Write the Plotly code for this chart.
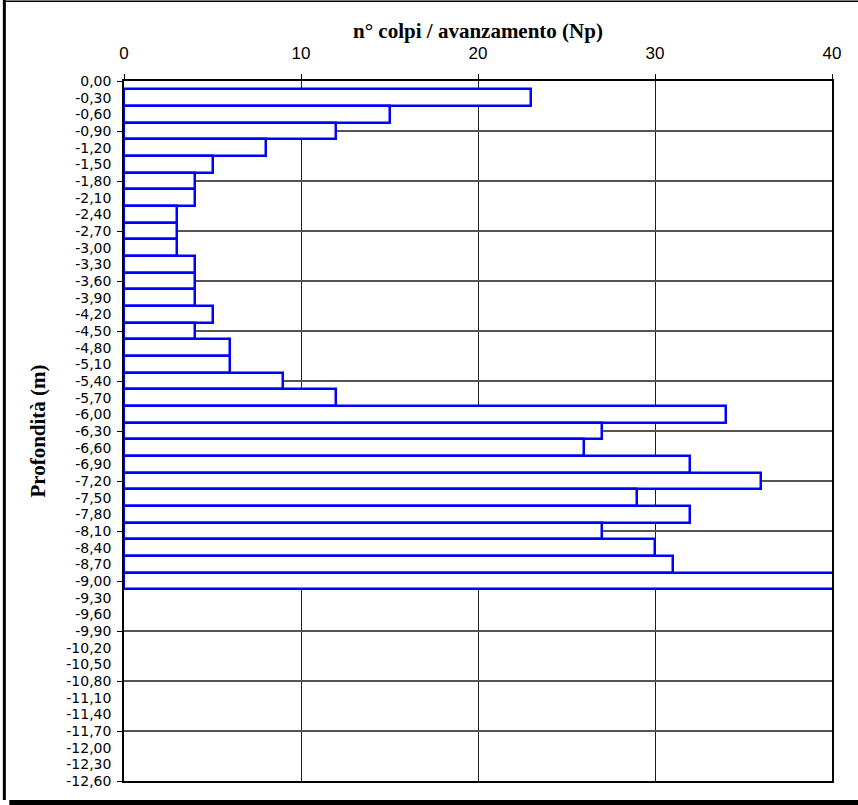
import plotly.graph_objects as go

# Depth categories (m) as printed on the axis
DEPTH_LABELS = [
    "0,00", "-0,30", "-0,60", "-0,90", "-1,20", "-1,50", "-1,80", "-2,10",
    "-2,40", "-2,70", "-3,00", "-3,30", "-3,60", "-3,90", "-4,20", "-4,50",
    "-4,80", "-5,10", "-5,40", "-5,70", "-6,00", "-6,30", "-6,60", "-6,90",
    "-7,20", "-7,50", "-7,80", "-8,10", "-8,40", "-8,70", "-9,00", "-9,30",
    "-9,60", "-9,90", "-10,20", "-10,50", "-10,80", "-11,10", "-11,40",
    "-11,70", "-12,00", "-12,30", "-12,60",
]

# Number of blows per advance, for depths -0,30 ... -9,00
BAR_DEPTHS = DEPTH_LABELS[1:31]
NP_VALUES = [
    23, 15, 12, 8, 5, 4, 4, 3, 3, 3,
    4, 4, 4, 5, 4, 6, 6, 9, 12, 34,
    27, 26, 32, 36, 29, 32, 27, 30, 31, 50,
]

X_TICKS = [0, 10, 20, 30, 40]

n_cat = len(DEPTH_LABELS)
grid_positions = list(range(0, n_cat, 3))

fig = go.Figure()
fig.add_trace(go.Bar(
    x=NP_VALUES,
    y=BAR_DEPTHS,
    orientation="h",
    width=1.0,
    marker=dict(color="white", line=dict(color="#0000FF", width=2.5)),
    showlegend=False,
    hoverinfo="x+y",
))
# helper (empty) trace to create the grid overlay axis
fig.add_trace(go.Scatter(x=[], y=[], yaxis="y2", showlegend=False))

tick_font = dict(family="DejaVu Sans, Arial, sans-serif", size=14, color="black")
title_font = dict(family="Liberation Serif, Times New Roman, serif", size=21, color="black")

fig.update_layout(
    width=858,
    height=805,
    paper_bgcolor="white",
    plot_bgcolor="white",
    margin=dict(l=124, r=26, t=81, b=24),
    bargap=0,
    xaxis=dict(
        side="top",
        range=[0, 40],
        tickvals=X_TICKS,
        ticks="outside",
        ticklen=5,
        tickcolor="black",
        ticklabelstandoff=8,
        tickfont=dict(family="Liberation Sans, Arial, sans-serif", size=17, color="black"),
        showgrid=True,
        gridcolor="#1e1e1e",
        gridwidth=1,
        zeroline=False,
        showline=True,
        linecolor="black",
        linewidth=1.5,
        mirror=True,
        title=dict(text="<b>n° colpi / avanzamento (Np)</b>", font=title_font, standoff=0),
    ),
    yaxis=dict(
        type="category",
        categoryorder="array",
        categoryarray=DEPTH_LABELS,
        range=[n_cat - 1, 0],
        tickmode="array",
        tickvals=DEPTH_LABELS,
        ticktext=DEPTH_LABELS,
        ticks="",
        ticklabelstandoff=8,
        tickfont=tick_font,
        showgrid=False,
        zeroline=False,
        showline=True,
        linecolor="black",
        linewidth=1.5,
        mirror=True,
        title=dict(text="<b>Profondità (m)</b>", font=title_font, standoff=15),
    ),
    yaxis2=dict(
        overlaying="y",
        anchor="x",
        side="left",
        range=[n_cat - 1, 0],
        tickmode="array",
        tickvals=grid_positions,
        showticklabels=False,
        ticks="outside",
        ticklen=6,
        tickcolor="black",
        showgrid=True,
        gridcolor="#555555",
        gridwidth=1.5,
        zeroline=False,
        showline=False,
    ),
    shapes=[
        # outer frame of the picture
        dict(type="line", xref="paper", yref="paper",
             x0=-0.169, x1=1.04, y0=1.114, y1=1.114,
             line=dict(color="black", width=1.5)),
        dict(type="line", xref="paper", yref="paper",
             x0=-0.169, x1=-0.169, y0=1.116, y1=-0.027,
             line=dict(color="black", width=3)),
        dict(type="line", xref="paper", yref="paper",
             x0=-0.162, x1=1.04, y0=-0.0307, y1=-0.0307,
             line=dict(color="black", width=5)),
    ],
)

fig.write_html(
    "out.html",
    config={"displayModeBar": False},
    post_script="document.body.style.margin='0';",
)
